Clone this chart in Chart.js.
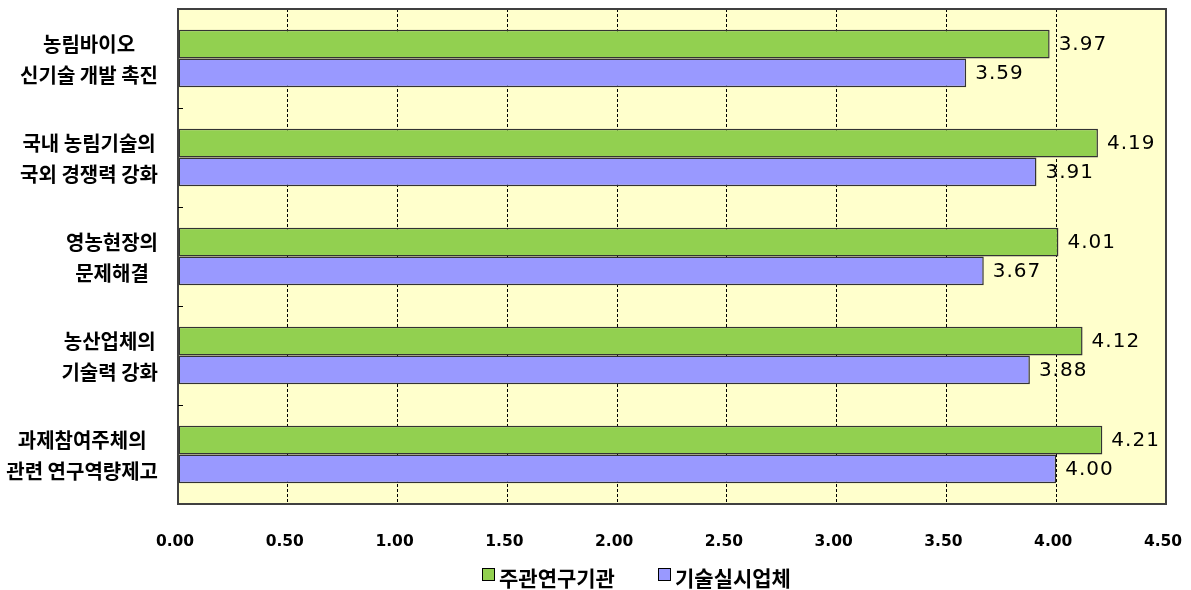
<!DOCTYPE html>
<html>
<head>
<meta charset="utf-8">
<script src="https://cdn.jsdelivr.net/npm/chart.js@4.4.1/dist/chart.umd.min.js"></script>
<style>
  html, body { margin: 0; padding: 0; background: #ffffff; }
  #wrap { width: 1191px; height: 590px; }
</style>
</head>
<body>
<div id="wrap"><canvas id="c" width="1191" height="590"></canvas></div>
<script>
// Categories (each entry is drawn as a two-line label)
const categories = [
  ["농림바이오", "신기술 개발 촉진"],
  ["국내 농림기술의", "국외 경쟁력 강화"],
  ["영농현장의", "문제해결"],
  ["농산업체의", "기술력 강화"],
  ["과제참여주체의", "관련 연구역량제고"]
];
const seriesNames = ["주관연구기관", "기술실시업체"];
const leadInstitutions = [3.97, 4.19, 4.01, 4.12, 4.21];
const adoptingCompanies = [3.59, 3.91, 3.67, 3.88, 4.00];
const axisMin = 0;
const axisMax = 4.5;
const axisStep = 0.5;

const GREEN = '#92D050';
const LAVENDER = '#9999FF';
const KR_FONT = '"Noto Sans CJK KR", "Noto Sans", sans-serif';

const chartDecor = {
  id: 'chartDecor',
  beforeDraw(chart) {
    const { ctx, chartArea: a } = chart;
    ctx.save();
    ctx.fillStyle = '#FFFFCC';
    ctx.fillRect(a.left, a.top, a.right - a.left, a.bottom - a.top);
    ctx.restore();
  },
  afterDatasetsDraw(chart) {
    const { ctx } = chart;
    ctx.save();
    ctx.fillStyle = '#000';
    ctx.font = '20px "DejaVu Sans", sans-serif';
    ctx.letterSpacing = '1px';
    ctx.textAlign = 'left';
    ctx.textBaseline = 'middle';
    chart.data.datasets.forEach((ds, di) => {
      const meta = chart.getDatasetMeta(di);
      meta.data.forEach((el, i) => {
        ctx.fillText(ds.data[i].toFixed(2), el.x + 9, el.y + 1);
      });
    });
    ctx.restore();
  },
  afterDraw(chart) {
    const { ctx, chartArea: a } = chart;
    const yScale = chart.scales.y;
    ctx.save();
    // plot frame
    ctx.strokeStyle = '#404040';
    ctx.lineWidth = 2;
    ctx.strokeRect(a.left, a.top, a.right - a.left, a.bottom - a.top);
    // small inward ticks between categories
    ctx.lineWidth = 1;
    ctx.strokeStyle = '#000';
    for (let i = 1; i < categories.length; i++) {
      const yb = Math.round((yScale.getPixelForValue(i - 1) + yScale.getPixelForValue(i)) / 2) + 0.5;
      ctx.beginPath();
      ctx.moveTo(a.left, yb);
      ctx.lineTo(a.left + 5, yb);
      ctx.stroke();
    }
    // category labels: block right-aligned, lines centred within the block
    ctx.fillStyle = '#000';
    ctx.font = 'bold 20px ' + KR_FONT;
    ctx.textAlign = 'center';
    ctx.textBaseline = 'middle';
    categories.forEach((lines, i) => {
      const cy = yScale.getPixelForValue(i);
      const w = Math.max(...lines.map(t => ctx.measureText(t).width));
      const cx = 158 - w / 2;
      ctx.fillText(lines[0], cx, cy - 14);
      ctx.fillText(lines[1], cx, cy + 17);
    });
    // legend
    const items = [
      { x: 482, color: GREEN, text: seriesNames[0] },
      { x: 658, color: LAVENDER, text: seriesNames[1] }
    ];
    ctx.font = 'bold 21px ' + KR_FONT;
    ctx.textAlign = 'left';
    items.forEach(it => {
      ctx.fillStyle = it.color;
      ctx.fillRect(it.x, 568, 13, 13);
      ctx.strokeStyle = '#000';
      ctx.lineWidth = 1;
      ctx.strokeRect(it.x + 0.5, 568.5, 12, 12);
      ctx.fillStyle = '#000';
      ctx.fillText(it.text, it.x + 17, 578);
    });
    ctx.restore();
  }
};

new Chart(document.getElementById('c'), {
  type: 'bar',
  data: {
    labels: categories,
    datasets: [
      {
        label: seriesNames[0],
        data: leadInstitutions,
        backgroundColor: GREEN,
        borderColor: '#333333',
        borderWidth: 1.5,
        borderSkipped: false
      },
      {
        label: seriesNames[1],
        data: adoptingCompanies,
        backgroundColor: LAVENDER,
        borderColor: '#333333',
        borderWidth: 1.5,
        borderSkipped: false
      }
    ]
  },
  options: {
    indexAxis: 'y',
    responsive: false,
    animation: false,
    devicePixelRatio: 1,
    layout: { padding: { top: 9, right: 25, left: 0, bottom: 0 } },
    categoryPercentage: 0.58,
    barPercentage: 1.0,
    plugins: {
      legend: { display: false },
      tooltip: { enabled: false }
    },
    scales: {
      y: {
        type: 'category',
        ticks: { display: false },
        grid: { display: false },
        border: { display: false },
        afterFit(scale) { scale.width = 178; }
      },
      x: {
        type: 'linear',
        position: 'bottom',
        min: axisMin,
        max: axisMax,
        ticks: {
          stepSize: axisStep,
          padding: 29,
          labelOffset: -3,
          color: '#000',
          font: { family: '"DejaVu Sans", sans-serif', size: 15.5, weight: 'bold' },
          callback: v => Number(v).toFixed(2)
        },
        grid: { color: '#000', lineWidth: 1, drawTicks: false },
        border: { display: false, dash: [3, 2] },
        afterFit(scale) {
          scale.height = 86;
          scale.paddingLeft = 0;
          scale.paddingRight = 0;
        }
      }
    }
  },
  plugins: [chartDecor]
});
</script>
</body>
</html>
